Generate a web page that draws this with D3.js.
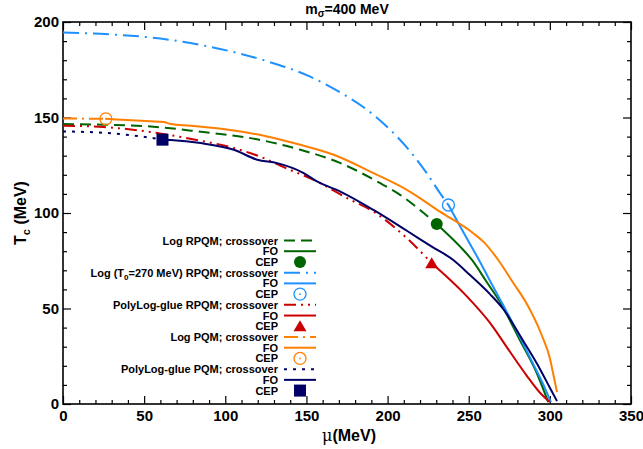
<!DOCTYPE html>
<html><head><meta charset="utf-8">
<script src="https://cdn.jsdelivr.net/npm/d3@7"></script>
<style>
body{margin:0;background:#fff}
text{font-family:"Liberation Sans",Arial,Helvetica,sans-serif;font-weight:bold;fill:#000}
</style>
</head><body>
<svg id="chart" width="643" height="449"></svg>
<script>
// ---------- data ----------
const xMajorTicks = [0, 50, 100, 150, 200, 250, 300, 350];
const yMajorTicks = [0, 50, 100, 150, 200];

// Log RPQM (green)
const logRpqmXoverMu = [0, 25, 54, 85, 115.6, 146.3, 171, 195.5, 207.7, 220, 230.3];
const logRpqmXoverT  = [146.6, 146.2, 145.3, 142.5, 139.2, 133.1, 126.1, 115.6, 109.5, 101.6, 94.2];
const logRpqmFoMu = [230.3, 234.4, 244.6, 252, 261, 269.2, 281.5, 291.8, 299];
const logRpqmFoT  = [94.2, 91, 82.5, 75.4, 64, 53.5, 33.5, 16.5, 1];
const logRpqmCep = [230.3, 94.2];

// Log (T0=270 MeV) RPQM (light blue)
const logT0XoverMu = [0, 23, 60, 89, 126, 152, 170, 185, 198, 214, 224, 232.3, 237.5];
const logT0XoverT  = [194.5, 193.8, 191.3, 187.3, 179.4, 171.5, 163.5, 155.5, 146.5, 132.2, 121, 110.4, 104.2];
const logT0FoMu = [237.5, 245, 256.9, 265, 273.3, 281.5, 290, 295.8, 300.6];
const logT0FoT  = [104.2, 92.5, 74.5, 61.5, 48.5, 35, 20.5, 10.5, 1];
const logT0Cep = [237.5, 104.2];

// PolyLog-glue RPQM (red)
const polyRpqmXoverMu = [0, 25, 54, 80.7, 105.3, 125, 136, 156.5, 175, 191.3, 211.9, 227.2];
const polyRpqmXoverT  = [145.7, 145, 142.4, 138.5, 134, 128.3, 124, 116.5, 107.8, 100.7, 86.8, 73.7];
const polyRpqmFoMu = [227.2, 236, 248.7, 263.1, 275.3, 285.6, 293.8, 300];
const polyRpqmFoT  = [73.7, 67, 56.5, 42.5, 27.5, 15, 6, 1];
const polyRpqmCep = [227.2, 73.7];

// Log PQM (orange)
const logPqmXoverMu = [0, 26.4];
const logPqmXoverT  = [149.5, 149.3];
const logPqmFoMu = [26.4, 54, 62, 66.4, 78.7, 105.3, 125.8, 146.3, 166.8, 191.3, 211.9, 232.3, 252.8, 259, 268.2, 277, 285.6, 295, 300, 302.5, 304.4];
const logPqmFoT  = [149.3, 148, 147.6, 146.6, 145.7, 143.2, 140.1, 135.7, 130.5, 120.9, 112.1, 100.7, 89.4, 85, 75.4, 64, 52.7, 36, 24, 14, 6.3];
const logPqmCep = [26.4, 149.3];

// PolyLog-glue PQM (navy)
const polyPqmXoverMu = [0, 25, 48, 61.3];
const polyPqmXoverT  = [142.7, 142, 140.1, 138.4];
const polyPqmFoMu = [61.3, 66.4, 84.8, 105.3, 119.7, 132, 148.3, 156.5, 170.9, 191.3, 211.9, 227, 240.5, 250.8, 263.1, 271, 283.6, 293.8, 300, 304.4];
const polyPqmFoT  = [138.4, 138.2, 136.6, 133.1, 127.9, 126.1, 120.9, 116.5, 111.2, 101.6, 90.7, 82.5, 75.4, 67.5, 57.5, 50, 33, 18.5, 8.5, 1.5];
const polyPqmCep = [61.3, 138.4];

const legendLabels = [
  "Log RPQM; crossover", "FO", "CEP",
  "Log (T0=270 MeV) RPQM; crossover", "FO", "CEP",
  "PolyLog-glue RPQM; crossover", "FO", "CEP",
  "Log PQM; crossover", "FO", "CEP",
  "PolyLog-glue PQM; crossover", "FO", "CEP"
];

// ---------- styling ----------
const series = [
  {color: "#006400", dash: "11,6", xMu: logRpqmXoverMu, xT: logRpqmXoverT, fMu: logRpqmFoMu, fT: logRpqmFoT, cep: logRpqmCep, marker: "filledCircle"},
  {color: "#1e90ff", dash: "16,6,2,6", xMu: logT0XoverMu, xT: logT0XoverT, fMu: logT0FoMu, fT: logT0FoT, cep: logT0Cep, marker: "openCircle"},
  {color: "#cc0000", dash: "12,5,2,5,2,5", xMu: polyRpqmXoverMu, xT: polyRpqmXoverT, fMu: polyRpqmFoMu, fT: polyRpqmFoT, cep: polyRpqmCep, marker: "triangle"},
  {color: "#ff7f00", dash: "14,5,2,5", xMu: logPqmXoverMu, xT: logPqmXoverT, fMu: logPqmFoMu, fT: logPqmFoT, cep: logPqmCep, marker: "openCircle"},
  {color: "#000066", dash: "3,6", xMu: polyPqmXoverMu, xT: polyPqmXoverT, fMu: polyPqmFoMu, fT: polyPqmFoT, cep: polyPqmCep, marker: "square"}
];

const svg = d3.select("#chart");
const L = 63, R = 631, T = 22, B = 404;
const x = d3.scaleLinear().domain([0, 350]).range([L, R]);
const y = d3.scaleLinear().domain([0, 200]).range([B, T]);

const xMinor = d3.range(0, 351, 10).filter(v => v % 50 !== 0);
const yMinor = d3.range(0, 201, 10).filter(v => v % 50 !== 0);

function axisStyle(g) {
  g.select(".domain").remove();
  g.selectAll("line").attr("stroke", "#000").attr("stroke-width", 1.2);
  g.selectAll("text").attr("font-size", 15).attr("font-weight", "bold")
    .attr("font-family", "Liberation Sans, Arial, sans-serif").attr("fill", "#000");
}

// bottom
svg.append("g").attr("transform", `translate(0,${B})`)
  .call(d3.axisBottom(x).tickValues(xMajorTicks).tickSizeInner(-8).tickSizeOuter(0).tickPadding(6).tickFormat(d3.format("d")))
  .call(axisStyle);
svg.append("g").attr("transform", `translate(0,${B})`)
  .call(d3.axisBottom(x).tickValues(xMinor).tickSizeInner(-4).tickSizeOuter(0).tickFormat(""))
  .call(axisStyle);
// top
svg.append("g").attr("transform", `translate(0,${T})`)
  .call(d3.axisTop(x).tickValues(xMajorTicks).tickSizeInner(-8).tickSizeOuter(0).tickFormat(""))
  .call(axisStyle);
svg.append("g").attr("transform", `translate(0,${T})`)
  .call(d3.axisTop(x).tickValues(xMinor).tickSizeInner(-4).tickSizeOuter(0).tickFormat(""))
  .call(axisStyle);
// left
svg.append("g").attr("transform", `translate(${L},0)`)
  .call(d3.axisLeft(y).tickValues(yMajorTicks).tickSizeInner(-8).tickSizeOuter(0).tickPadding(4).tickFormat(d3.format("d")))
  .call(axisStyle);
svg.append("g").attr("transform", `translate(${L},0)`)
  .call(d3.axisLeft(y).tickValues(yMinor).tickSizeInner(-4).tickSizeOuter(0).tickFormat(""))
  .call(axisStyle);
// right
svg.append("g").attr("transform", `translate(${R},0)`)
  .call(d3.axisRight(y).tickValues(yMajorTicks).tickSizeInner(-8).tickSizeOuter(0).tickFormat(""))
  .call(axisStyle);
svg.append("g").attr("transform", `translate(${R},0)`)
  .call(d3.axisRight(y).tickValues(yMinor).tickSizeInner(-4).tickSizeOuter(0).tickFormat(""))
  .call(axisStyle);

// frame
svg.append("rect").attr("x", L).attr("y", T).attr("width", R - L).attr("height", B - T)
  .attr("fill", "none").attr("stroke", "#000").attr("stroke-width", 1.6);

// curves
const line = d3.line().x(d => x(d[0])).y(d => y(d[1])).curve(d3.curveMonotoneX);
const plot = svg.append("g");
series.forEach(s => {
  const xo = s.xMu.map((m, i) => [m, s.xT[i]]);
  const fo = s.fMu.map((m, i) => [m, s.fT[i]]);
  plot.append("path").attr("d", line(xo)).attr("fill", "none")
    .attr("stroke", s.color).attr("stroke-width", 2).attr("stroke-dasharray", s.dash);
  plot.append("path").attr("d", line(fo)).attr("fill", "none")
    .attr("stroke", s.color).attr("stroke-width", 2);
});

function drawMarker(g, type, cx, cy, color) {
  if (type === "filledCircle") {
    g.append("circle").attr("cx", cx).attr("cy", cy).attr("r", 6).attr("fill", color);
  } else if (type === "openCircle") {
    g.append("circle").attr("cx", cx).attr("cy", cy).attr("r", 6).attr("fill", "none")
      .attr("stroke", color).attr("stroke-width", 1.3);
    g.append("circle").attr("cx", cx).attr("cy", cy).attr("r", 0.9).attr("fill", color);
  } else if (type === "triangle") {
    g.append("path").attr("d", `M${cx},${cy - 6}L${cx + 6.5},${cy + 5}L${cx - 6.5},${cy + 5}Z`).attr("fill", color);
  } else if (type === "square") {
    g.append("rect").attr("x", cx - 6).attr("y", cy - 6).attr("width", 12).attr("height", 12).attr("fill", color);
  }
}
series.forEach(s => drawMarker(plot, s.marker, x(s.cep[0]), y(s.cep[1]), s.color));

// legend
const lg = svg.append("g");
const rowY0 = 240.5, rowH = 10.72, textRight = 278, lineX0 = 284, lineX1 = 316, markX = 300;
legendLabels.forEach((lab, i) => {
  const s = series[Math.floor(i / 3)];
  const ry = rowY0 + i * rowH;
  const t = lg.append("text").attr("x", textRight).attr("y", ry + 4).attr("text-anchor", "end")
    .attr("font-size", 11);
  if (lab.indexOf("T0") >= 0) {
    const parts = lab.split("T0");
    t.append("tspan").text(parts[0] + "T");
    t.append("tspan").attr("font-size", 8).attr("dy", 3).text("0");
    t.append("tspan").attr("dy", -3).text(parts[1]);
  } else {
    t.text(lab);
  }
  const k = i % 3;
  if (k === 0) {
    lg.append("line").attr("x1", lineX0).attr("x2", lineX1).attr("y1", ry).attr("y2", ry)
      .attr("stroke", s.color).attr("stroke-width", 2).attr("stroke-dasharray", s.dash);
  } else if (k === 1) {
    lg.append("line").attr("x1", lineX0).attr("x2", lineX1).attr("y1", ry).attr("y2", ry)
      .attr("stroke", s.color).attr("stroke-width", 2);
  } else {
    drawMarker(lg, s.marker, markX, ry, s.color);
  }
});

// title
const title = svg.append("text").attr("x", 347).attr("y", 14).attr("text-anchor", "middle").attr("font-size", 14);
title.append("tspan").text("m");
title.append("tspan").attr("font-size", 10).attr("dy", 3).text("σ");
title.append("tspan").attr("dy", -3).text("=400 MeV");

// x label
const xl = svg.append("text").attr("x", 349).attr("y", 441).attr("text-anchor", "middle").attr("font-size", 16);
xl.append("tspan").attr("font-weight", "normal").attr("font-family", "DejaVu Serif, serif").text("μ");
xl.append("tspan").text("(MeV)");

// y label
const yl = svg.append("text").attr("transform", "translate(26,213) rotate(-90)").attr("text-anchor", "middle").attr("font-size", 16);
yl.append("tspan").text("T");
yl.append("tspan").attr("font-size", 11).attr("dy", 4).text("c");
yl.append("tspan").attr("dy", -4).text(" (MeV)");
</script>
</body></html>
